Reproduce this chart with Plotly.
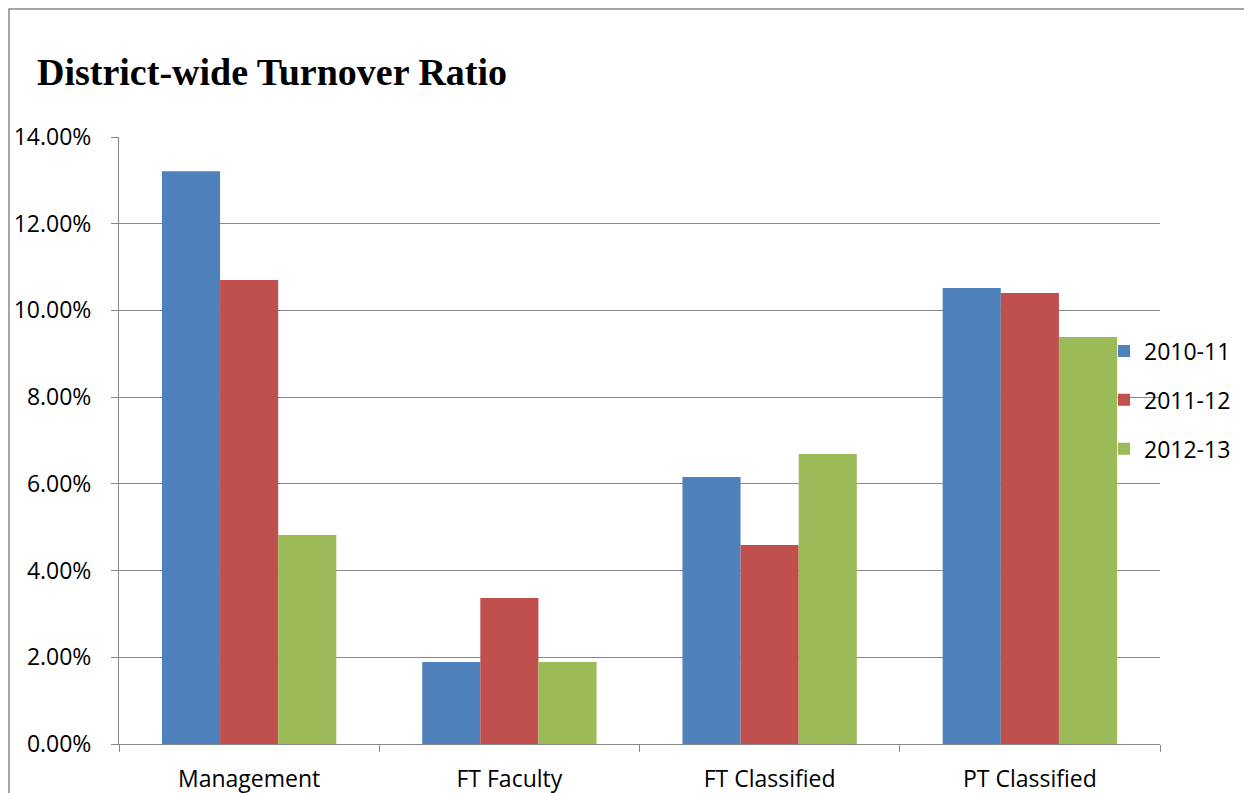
import plotly.graph_objects as go

categories = ["Management", "FT Faculty", "FT Classified", "PT Classified"]
series_names = ["2010-11", "2011-12", "2012-13"]
v_2010_11 = [0.1321, 0.0189, 0.0616, 0.1052]
v_2011_12 = [0.1070, 0.0337, 0.0459, 0.1040]
v_2012_13 = [0.0482, 0.0189, 0.0669, 0.0939]
colors = ["#4F81BD", "#C0504D", "#9BBB59"]

fig = go.Figure()
for i, (name, vals) in enumerate(zip(series_names, [v_2010_11, v_2011_12, v_2012_13])):
    fig.add_trace(go.Bar(x=categories, y=vals, name=name, marker_color=colors[i],
                         marker_line_width=0, legendgroup=name))

off = 8  # page body offset
W, H = 1252 - off, 793 - off
axis_font = dict(family="Open Sans, Noto Sans, sans-serif", size=23, color="#000")
fig.update_layout(
    width=W, height=H,
    margin=dict(l=119 - off, r=W - (1160 - off), t=137 - off, b=H - (744 - off), autoexpand=False),
    paper_bgcolor="white", plot_bgcolor="white",
    barmode="group", bargap=0.33, bargroupgap=0,
    title=dict(text="<b>District-wide Turnover Ratio</b>", x=(37 - off) / W, xref="container",
               xanchor="left", y=1 - (72 - off) / H, yref="container", yanchor="middle",
               font=dict(family="Liberation Serif, Times New Roman, serif", size=38, color="#000")),
    legend=dict(x=(1104 - 119) / 1041, xanchor="left", y=(744 - 400) / 607, yanchor="middle",
                bgcolor="rgba(0,0,0,0)", font=dict(family="Open Sans, Noto Sans, sans-serif", size=23, color="#000"),
                tracegroupgap=16, itemwidth=30),
    showlegend=True,
    font=axis_font,
)
fig.update_yaxes(range=[0, 0.14], dtick=0.02, tickformat=".2%", showgrid=True,
                 gridcolor="#888888", gridwidth=1, showline=True, linecolor="#888888",
                 ticks="outside", ticklen=7, tickcolor="#888888", zeroline=False,
                 tickfont=axis_font, ticklabelstandoff=15)
fig.update_xaxes(showline=True, linecolor="#888888", ticks="outside", ticklen=7,
                 tickcolor="#888888", tickson="boundaries", tickfont=axis_font,
                 ticklabelstandoff=14)

fig.add_shape(type="rect", xref="paper", yref="paper",
              x0=(9 - 119) / 1041, x1=(1300 - 119) / 1041,
              y0=(744 - 850) / 607, y1=(744 - 9) / 607,
              line=dict(color="#888888", width=1.5), fillcolor="rgba(0,0,0,0)", layer="below")

fig.write_html("out.html")
